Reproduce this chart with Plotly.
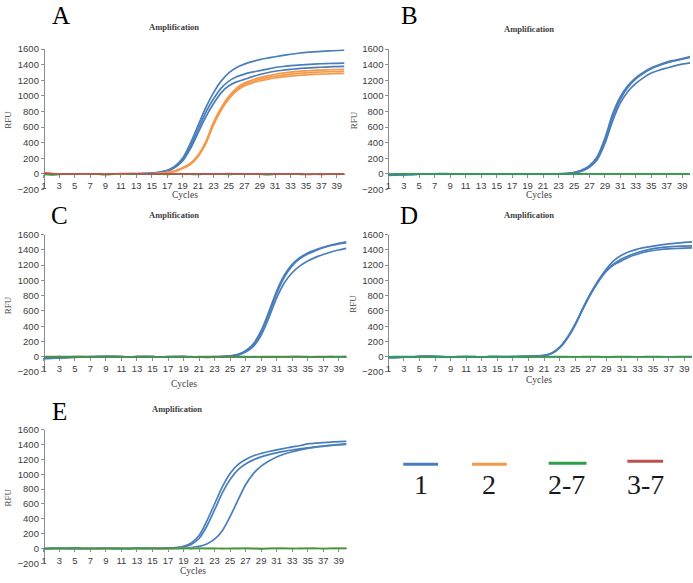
import plotly.graph_objects as go

W, H = 693, 583
cycles = list(range(1, 41))
x_tick_vals = list(range(1, 40, 2))
y_tick_vals = [-200, 0, 200, 400, 600, 800, 1000, 1200, 1400, 1600]

# ---------------- data ----------------
a_blue_1 = [-4, -2, 0, 1, 2, 1, 0, -1, 0, 1, 2, 1, 2, 4,
            10, 22, 45, 100, 200, 390, 620, 850, 1040, 1190, 1295, 1365, 1408, 1440, 1465, 1485,
            1503, 1520, 1535, 1548, 1558, 1566, 1572, 1577, 1583, 1588]
a_blue_2 = [-3, -1, 1, 0, 1, 2, 0, 0, 1, 0, 1, 2, 3, 4,
            8, 18, 40, 90, 180, 350, 570, 790, 960, 1100, 1190, 1245, 1280, 1305, 1325, 1345,
            1365, 1378, 1388, 1396, 1403, 1408, 1413, 1416, 1419, 1420]
a_blue_3 = [-5, -2, 0, 1, 0, 1, 1, -1, 0, 1, 0, 1, 2, 3,
            6, 15, 35, 80, 165, 320, 525, 730, 900, 1040, 1130, 1180, 1212, 1245, 1275, 1298,
            1317, 1330, 1340, 1350, 1357, 1363, 1368, 1373, 1377, 1380]
a_orange_1 = [12, 5, 0, -2, -3, -1, 0, 1, 0, -1, 0, 1, 0, -1, 2, 8,
              20, 40, 80, 135, 240, 410, 660, 850, 995, 1100, 1165, 1205, 1235, 1258, 1278, 1293,
              1305, 1315, 1322, 1328, 1332, 1336, 1339, 1342]
a_orange_2 = [8, 2, -1, -2, -1, 0, 1, 0, -1, 0, 1, 0, -1, 0, 2, 7,
              18, 36, 75, 128, 232, 400, 645, 835, 980, 1085, 1148, 1185, 1213, 1235, 1254, 1268,
              1280, 1290, 1297, 1303, 1307, 1310, 1312, 1314]
a_orange_3 = [5, 0, -2, -1, 0, 1, 0, -1, 0, 1, 0, -1, 0, 1, 2, 6,
              15, 32, 68, 120, 220, 385, 625, 815, 960, 1065, 1128, 1165, 1192, 1213, 1230, 1243,
              1255, 1264, 1271, 1276, 1280, 1283, 1286, 1288]
a_green = [-8, -12, -6, -2, 0, 2, 0, -4, -10, -3, 2, -2, -5, -1, 0, -3, -6, -2, 0, -4,
           -8, -2, 1, -3, -6, -2, 0, -1, -4, -9, -3, 0, -2, -5, -8, -3, 0, -2, -4, -3]
a_red = [10, 4, 0, -2, 0, 2, 1, 0, -2, 0, 3, 5, 2, -1, -3, 0, 2, 1, -1, 0,
         2, 0, -2, 1, 3, 1, 0, -1, 0, 2, 1, -1, 0, 1, -2, -4, -6, -2, 0, 1]

b_blue_1 = [-12, -10, -8, -6, -3, 0, 2, 3, 2, 1, 0, 0, 2, 1, -1, 0, 1, 0, -2, -1, 0, 1, 2,
            5, 18, 48, 105, 220, 460, 770, 990, 1135, 1235, 1305, 1360, 1400, 1435, 1458, 1480, 1505]
b_blue_2 = [-15, -13, -10, -7, -4, -1, 1, 2, 1, 0, -1, 0, 1, 0, -2, -1, 0, -1, -3, -2, 0, 0, 1,
            4, 15, 42, 95, 200, 425, 730, 960, 1115, 1220, 1292, 1348, 1392, 1425, 1450, 1472, 1495]
b_blue_3 = [-18, -15, -12, -9, -5, -2, 0, 1, 0, -1, -1, 0, 0, -1, -2, -1, 0, -2, -5, -3, -1, 0, 0,
            3, 12, 35, 85, 180, 390, 680, 910, 1060, 1160, 1235, 1295, 1330, 1358, 1385, 1408, 1425]
b_green = [-2, 0, 1, -1, 0, 2, 1, 0, -1, 0, 1, 0, -1, 1, 0, -2, 0, 1, 0, -1,
           0, 1, 0, -1, 0, 1, 2, 0, -1, 0, 1, 0, -1, 0, 1, 0, -1, 0, 1, 0]

c_blue_1 = [-20, -18, -12, -8, -5, -2, 0, 2, 3, 2, 0, -1, 0, 1, 0, -2, -1, 0, 1, 0, -2, -1, 0, 2,
            10, 30, 80, 170, 340, 590, 860, 1070, 1210, 1300, 1360, 1400, 1435, 1462, 1485, 1505]
c_blue_2 = [-22, -20, -15, -10, -6, -3, -1, 1, 2, 1, -1, -2, -1, 0, -1, -3, -2, -1, 0, -1, -3, -2, -1, 1,
            8, 26, 72, 155, 315, 560, 830, 1045, 1190, 1285, 1345, 1390, 1428, 1457, 1478, 1495]
c_blue_3 = [-25, -22, -17, -12, -8, -4, -2, 0, 1, 0, -2, -3, -2, -1, -2, -4, -3, -2, -1, -2, -4, -3, -2, 0,
            6, 20, 60, 135, 280, 510, 770, 970, 1100, 1190, 1255, 1302, 1340, 1372, 1398, 1420]
c_red = [0, 1, 0, -1, 0, 1, 0, -1, 0, 1, 0, -1, 0, 1, 0, -1, 0, 1, 0, -2,
         -4, -8, -3, 0, 1, 0, -1, 0, -3, -7, -2, 0, 1, 0, -1, 0, 1, 0, -1, 0]
c_green = [-3, -1, 0, 2, 1, 0, -1, 0, 2, 1, 0, -1, 0, 1, 0, -1, 0, 1, 0, -1,
           0, 1, 0, -1, 0, 1, 0, -1, 0, 1, 0, -1, 0, 1, 0, -4, -2, 0, 1, 0]

d_blue_1 = [-10, -8, -5, -2, 5, 8, 3, 0, -2, 0, 1, 0, -1, 0, 1, 0, 2, 3,
            5, 10, 18, 48, 125, 255, 430, 640, 835, 1005, 1150, 1262, 1332, 1378, 1410, 1432,
            1450, 1465, 1478, 1488, 1497, 1505]
d_blue_2 = [-12, -10, -6, -3, 3, 6, 2, -1, -2, -1, 0, -1, -1, 0, 0, -1, 1, 2,
            4, 9, 16, 45, 120, 248, 422, 632, 828, 995, 1135, 1220, 1282, 1330, 1365, 1393,
            1416, 1430, 1440, 1446, 1450, 1453]
d_blue_3 = [-14, -11, -7, -4, 1, 4, 1, -2, -3, -2, -1, -2, -2, -1, -1, -2, 0, 1,
            4, 8, 15, 42, 115, 242, 415, 625, 820, 985, 1120, 1208, 1258, 1310, 1343, 1372,
            1392, 1405, 1413, 1418, 1422, 1425]
d_green = [-2, 0, 1, 0, -1, 0, 1, 0, -1, 0, 1, 0, -1, 0, 1, 0, -1, 0, 1, 0,
           -1, 0, 1, 0, -1, 0, 1, 0, -3, 0, 1, 0, -1, 0, 1, 0, -1, 0, 1, 0]

e_blue_1 = [-3, 0, 2, 0, -2, -3, -1, 0, 1, 0, -1, 0, 1, 0, 1, 2,
            5, 12, 30, 75, 175, 370, 600, 830, 1010, 1130, 1200, 1250, 1282, 1308, 1330, 1350,
            1370, 1385, 1410, 1420, 1428, 1435, 1442, 1445]
e_blue_2 = [-4, -1, 1, -1, -2, -3, -1, 0, 0, -1, -1, 0, 0, 0, 1, 1,
            3, 9, 22, 55, 135, 300, 520, 750, 930, 1060, 1140, 1195, 1235, 1265, 1290, 1310,
            1328, 1343, 1357, 1370, 1382, 1392, 1400, 1405]
e_blue_3 = [-5, -2, 0, -1, -3, -4, -2, -1, 0, -1, -2, -1, 0, -1, 0, 0, 1, 2,
            5, 12, 28, 60, 125, 240, 430, 650, 860, 1010, 1110, 1180, 1235, 1275, 1305, 1330,
            1350, 1365, 1378, 1390, 1400, 1410]
e_orange = [-2, -4, -1, 0, 1, 0, -2, -5, -1, 0, 1, 0, -4, -1, 0, -2, -5, -1, 0, 1,
            0, -2, -1, 0, -4, -1, 0, 1, 0, -1, 0, 1, 0, -1, 0, 1, -2, 0, 1, 0]
e_green = [-1, 0, 2, 3, 8, 3, 0, -1, 0, 1, 0, -1, 0, 1, 0, -1, 0, 1, 0, -1,
           0, 1, 0, -1, 0, 1, 0, -1, -5, 0, 1, 0, -1, 0, 1, 0, -1, 0, 1, 0]

legend_labels = ["1", "2", "2-7", "3-7"]

BLUE = "#4a7ebb"
ORANGE = "#f39a4a"
GREEN = "#2e9e48"
RED = "#c0504d"

panel_series = [
    [(a_blue_1, BLUE), (a_blue_2, BLUE), (a_blue_3, BLUE), (a_orange_1, ORANGE),
     (a_orange_2, ORANGE), (a_orange_3, ORANGE), (a_green, GREEN), (a_red, RED)],
    [(b_blue_1, BLUE), (b_blue_2, BLUE), (b_blue_3, BLUE), (b_green, GREEN)],
    [(c_blue_1, BLUE), (c_blue_2, BLUE), (c_blue_3, BLUE), (c_red, RED), (c_green, GREEN)],
    [(d_blue_1, BLUE), (d_blue_2, BLUE), (d_blue_3, BLUE), (d_green, GREEN)],
    [(e_blue_1, BLUE), (e_blue_2, BLUE), (e_blue_3, BLUE), (e_orange, ORANGE), (e_green, GREEN)],
]

# ---------------- layout geometry (pixels) ----------------
boxes = [
    dict(box=(41, 44, 343, 187), letter="A", lpos=(58, 10), tpos=(172, 21), rfu=(5, 116), cyc=(183, 193)),
    dict(box=(387, 44, 690, 187), letter="B", lpos=(408, 10), tpos=(528, 23), rfu=(352, 116), cyc=(538, 193)),
    dict(box=(41, 233, 345, 373), letter="C", lpos=(57, 214), tpos=(172, 213), rfu=(5, 305), cyc=(182, 385)),
    dict(box=(387, 233, 692, 373), letter="D", lpos=(408, 214), tpos=(528, 213), rfu=(352, 303), cyc=(538, 381)),
    dict(box=(41, 432, 345, 568), letter="E", lpos=(57, 413), tpos=(175, 411), rfu=(5, 501), cyc=(191, 576)),
]

def px(xp):
    return xp / W

def py(yp):
    return (H - yp) / H

fig = go.Figure()
layout = dict(
    width=W, height=H,
    margin=dict(l=0, r=0, t=0, b=0),
    paper_bgcolor="white", plot_bgcolor="white",
    showlegend=False,
)
annotations = []
shapes = []
AX = "#8c8c8c"
TICKF = dict(family="Liberation Sans", size=9.5, color="#404040")

for i, (p, series) in enumerate(zip(boxes, panel_series), start=1):
    l, t, r, b = p["box"]
    xd = [px(l), px(r)]
    yd = [py(b), py(t)]
    zero_pos = yd[0] + (0 - (-200)) / 1800 * (yd[1] - yd[0])
    sfx = "" if i == 1 else str(i)
    layout["xaxis" + sfx] = dict(
        domain=xd, range=[1, 40], anchor="free", position=zero_pos,
        tickmode="array", tickvals=x_tick_vals, ticktext=[str(v) for v in x_tick_vals],
        ticks="outside", ticklen=3, tickcolor=AX, showline=True, linecolor=AX, linewidth=1,
        showgrid=False, zeroline=False, tickfont=TICKF, layer="below traces",
        ticklabeloverflow="allow",
    )
    layout["yaxis" + sfx] = dict(
        domain=yd, range=[-200, 1600], anchor="free", position=xd[0],
        tickmode="array", tickvals=y_tick_vals, ticks="outside", ticklen=3, tickcolor=AX,
        showline=True, linecolor=AX, linewidth=1, showgrid=False, zeroline=False,
        tickfont=TICKF, layer="below traces", ticklabeloverflow="allow",
    )
    for ys, col in series:
        fig.add_trace(go.Scatter(
            x=cycles, y=ys, mode="lines", line=dict(color=col, width=1.7, shape="spline", smoothing=0.8),
            xaxis="x" + sfx, yaxis="y" + sfx, hoverinfo="skip",
        ))
    annotations.append(dict(text=p["letter"], x=px(p["lpos"][0]), y=py(p["lpos"][1]), xref="paper", yref="paper",
                            showarrow=False, xanchor="center", yanchor="middle",
                            font=dict(family="Liberation Serif", size=25, color="#000000")))
    annotations.append(dict(text="<b>Amplification</b>", x=px(p["tpos"][0]), y=py(p["tpos"][1]), xref="paper", yref="paper",
                            showarrow=False, xanchor="center", yanchor="middle",
                            font=dict(family="Liberation Serif", size=8.5, color="#404040")))
    annotations.append(dict(text="RFU", x=px(p["rfu"][0]), y=py(p["rfu"][1]), xref="paper", yref="paper",
                            showarrow=False, xanchor="center", yanchor="middle", textangle=-90,
                            font=dict(family="Liberation Serif", size=9, color="#404040")))
    annotations.append(dict(text="Cycles", x=px(p["cyc"][0]), y=py(p["cyc"][1]), xref="paper", yref="paper",
                            showarrow=False, xanchor="center", yanchor="middle",
                            font=dict(family="Liberation Serif", size=9.5, color="#404040")))

# legend drawn as lines + text
legend_cols = [BLUE, ORANGE, GREEN, RED]
legend_line_x = [(402, 437), (471, 506), (548, 586), (627, 663)]
legend_line_y = [467, 467, 466, 464]
legend_text_x = [420, 488, 566, 645]
for lab, col, (x0, x1), ly, tx in zip(legend_labels, legend_cols, legend_line_x, legend_line_y, legend_text_x):
    shapes.append(dict(type="line", xref="paper", yref="paper", x0=px(x0), x1=px(x1), y0=py(ly), y1=py(ly),
                       line=dict(color=col, width=3)))
    annotations.append(dict(text=lab, x=px(tx), y=py(488), xref="paper", yref="paper", showarrow=False,
                            xanchor="center", yanchor="middle",
                            font=dict(family="Liberation Serif", size=28, color="#1a1a1a")))

layout["annotations"] = annotations
layout["shapes"] = shapes
fig.update_layout(**layout)
fig.write_html(
    "out.html",
    config={"displayModeBar": False},
    post_script="document.body.style.margin='0';document.body.style.overflow='hidden';",
)
